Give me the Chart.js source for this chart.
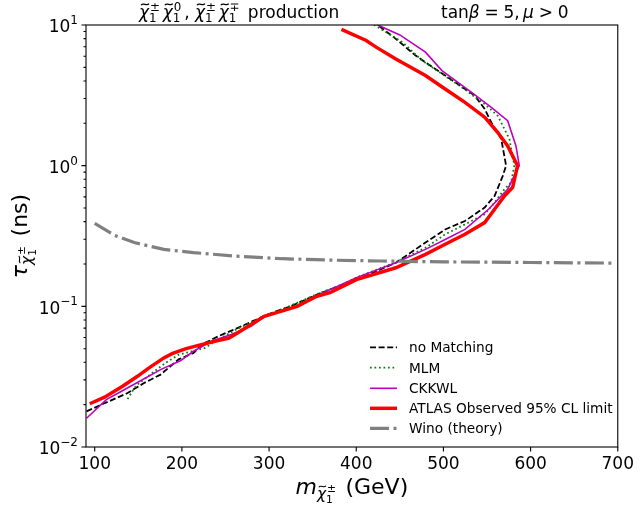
<!DOCTYPE html>
<html>
<head>
<meta charset="utf-8">
<script src="https://cdn.jsdelivr.net/npm/chart.js@4.4.0/dist/chart.umd.min.js"></script>
<style>
  html, body { margin: 0; padding: 0; background: #fff; }
  canvas { display: block; }
</style>
</head>
<body>
<canvas id="chart" width="641" height="508"></canvas>
<script>
// chargino mass (GeV) and lifetime (ns) in order along each curve
const noMatchMass = [90.6, 111.3, 120.7, 137.7, 156.6, 175.5, 196.3, 213.3, 222.7, 241.6, 264.2, 298.2, 324.6, 354.8, 385.0, 415.2, 445.4, 479.4, 502, 524.7, 547.3, 558.7, 568.1, 571.9, 566.3, 554.9, 547.3, 536.0, 513.4, 490.7, 468.1, 445.4, 422.8];
const noMatchTau = [0.0179, 0.0205, 0.0217, 0.0242, 0.0285, 0.0327, 0.042, 0.0466, 0.0534, 0.0612, 0.0703, 0.0875, 0.100, 0.121, 0.143, 0.169, 0.204, 0.284, 0.352, 0.404, 0.504, 0.609, 0.846, 1.0, 1.55, 2.03, 2.53, 3.15, 3.92, 4.87, 6.06, 7.97, 10.2];

const mlmMass = [137.7, 145.3, 151, 181.2, 196.3, 226.5, 241.6, 264.2, 298.2, 324.6, 354.8, 385, 400.1, 445.4, 479.4, 502, 524.7, 547.3, 558.7, 570, 577.6, 581.3, 575.7, 562.4, 547.3, 521, 498.3, 475.6, 453, 415];
const mlmTau = [0.0219, 0.0262, 0.0285, 0.0396, 0.0453, 0.0506, 0.058, 0.0695, 0.087, 0.101, 0.122, 0.144, 0.160, 0.206, 0.261, 0.325, 0.383, 0.451, 0.547, 0.68, 0.759, 1.0, 1.55, 2.26, 2.74, 3.61, 4.49, 5.58, 7.55, 10.5];

const ckkwlMass = [90.6, 113.3, 130.2, 151, 175.5, 198.2, 213.3, 234, 256.6, 279.3, 294.5, 332.2, 354.8, 400.1, 445.4, 479.4, 502, 524.7, 551.8, 573.7, 587, 583.2, 573.7, 554.9, 532.3, 498.3, 479.4, 450, 417];
const ckkwlTau = [0.0160, 0.0217, 0.0248, 0.0292, 0.0355, 0.041, 0.0479, 0.0564, 0.063, 0.0722, 0.0842, 0.100, 0.119, 0.160, 0.204, 0.254, 0.299, 0.352, 0.490, 0.68, 1.0, 1.38, 2.09, 2.60, 3.32, 4.74, 6.41, 8.5, 10.5];

const atlasMass = [94.3, 111.3, 132, 149, 162.3, 179.3, 188.7, 203.9, 218.9, 237.8, 254, 264.2, 279.3, 294.5, 332.2, 354.8, 369.9, 400.1, 445.4, 479.4, 502, 524.7, 547.3, 558.7, 570, 579.4, 585, 573.7, 562.4, 547.3, 524.7, 502, 479.4, 445.4, 422.8, 411.4, 383];
const atlasTau = [0.0203, 0.0226, 0.027, 0.0318, 0.0365, 0.043, 0.0461, 0.0498, 0.0528, 0.0564, 0.0595, 0.0648, 0.0742, 0.085, 0.100, 0.118, 0.125, 0.155, 0.188, 0.234, 0.276, 0.325, 0.394, 0.49, 0.609, 0.70, 1.0, 1.38, 1.72, 2.21, 2.82, 3.51, 4.37, 5.74, 6.96, 7.76, 9.3];

const winoMass = [100, 122.7, 145.3, 179.3, 213.3, 258.6, 315.2, 371.8, 428.4, 500, 600, 695];
const winoTau = [0.389, 0.320, 0.284, 0.254, 0.241, 0.228, 0.218, 0.213, 0.210, 0.207, 0.205, 0.203];

const xTicks = [100, 200, 300, 400, 500, 600, 700];
const yMajor = [0.01, 0.1, 1, 10];
const yExp = [-2, -1, 0, 1];

const FONT = '"DejaVu Sans"';

function pts(xs, ys) {
  return xs.map((x, i) => ({ x: x, y: ys[i] }));
}

function line(label, xs, ys, color, width, dash, order) {
  return {
    label: label,
    data: pts(xs, ys),
    showLine: true,
    borderColor: color,
    backgroundColor: color,
    borderWidth: width,
    borderDash: dash,
    borderCapStyle: 'butt',
    pointRadius: 0,
    fill: false,
    tension: 0,
    clip: 0,
    order: order
  };
}

// tilde accent over chi
function tilde(ctx, cx, cy, w, s) {
  const a = s * 0.05, x0 = cx - w / 2;
  ctx.save();
  ctx.lineWidth = s * 0.07;
  ctx.strokeStyle = '#000';
  ctx.beginPath();
  ctx.moveTo(x0, cy + a);
  ctx.bezierCurveTo(x0 + w * 0.3, cy - 2.6 * a, x0 + w * 0.7, cy + 2.6 * a, x0 + w, cy - a);
  ctx.stroke();
  ctx.restore();
}

// small mathtext-like writer: roman / italic runs, gaps, and chi with tilde, sup and sub
function mathText(ctx, items, x, y, draw) {
  let cx = x;
  for (const it of items) {
    const s = it.size, by = y + (it.dy || 0);
    if (it.gap) { cx += it.gap * s; continue; }
    ctx.font = (it.it || it.chi ? 'italic ' : '') + s + 'px ' + FONT;
    const txt = it.chi ? 'χ' : it.t;
    const w = ctx.measureText(txt).width;
    if (draw) ctx.fillText(txt, cx, by);
    if (it.chi) {
      if (draw) tilde(ctx, cx + w * 0.6, by - s * 0.8, w * 0.8, s);
      const ss = s * 0.7;
      ctx.font = ss + 'px ' + FONT;
      const w1 = ctx.measureText(it.sup).width;
      const w2 = ctx.measureText(it.sub).width;
      if (draw) {
        ctx.fillText(it.sup, cx + w + s * 0.06, by - s * 0.42);
        ctx.fillText(it.sub, cx + w, by + s * 0.24);
      }
      cx += w + Math.max(w1, w2) + s * 0.22;
    } else {
      cx += w;
    }
  }
  return cx - x;
}

const decor = {
  id: 'decor',
  beforeDraw(chart) {
    const ctx = chart.ctx;
    ctx.save();
    ctx.fillStyle = '#fff';
    ctx.fillRect(0, 0, chart.width, chart.height);
    ctx.restore();
  },
  afterDraw(chart) {
    const ctx = chart.ctx, a = chart.chartArea;
    const xs = chart.scales.x, ys = chart.scales.y;
    ctx.save();
    ctx.fillStyle = '#000';
    ctx.strokeStyle = '#000';

    // frame
    ctx.lineWidth = 1.1;
    ctx.strokeRect(a.left, a.top, a.right - a.left, a.bottom - a.top);

    // tick marks
    ctx.beginPath();
    xTicks.forEach(v => {
      const px = xs.getPixelForValue(v);
      ctx.moveTo(px, a.bottom);
      ctx.lineTo(px, a.bottom + 4.5);
    });
    ys.ticks.forEach(t => {
      const py = ys.getPixelForValue(t.value);
      const major = yMajor.some(m => Math.abs(m - t.value) < 1e-9);
      ctx.moveTo(a.left, py);
      ctx.lineTo(a.left - (major ? 4.5 : 2.5), py);
    });
    ctx.stroke();

    // y tick labels 10^n
    ctx.textBaseline = 'alphabetic';
    ctx.textAlign = 'left';
    yMajor.forEach((v, i) => {
      const py = ys.getPixelForValue(v);
      const e = (yExp[i] < 0 ? '\u2212' : '') + Math.abs(yExp[i]);
      ctx.font = '12px ' + FONT;
      const we = ctx.measureText(e).width;
      ctx.font = '17px ' + FONT;
      const wb = ctx.measureText('10').width;
      const x0 = a.left - 8 - we - wb;
      ctx.fillText('10', x0, py + 7.3);
      ctx.font = '12px ' + FONT;
      ctx.fillText(e, x0 + wb, py - 1);
    });

    // titles
    const ts = 17;
    mathText(ctx, [
      { chi: true, sup: '±', sub: '1', size: ts },
      { chi: true, sup: '0', sub: '1', size: ts },
      { t: ', ', size: ts },
      { chi: true, sup: '±', sub: '1', size: ts },
      { chi: true, sup: '∓', sub: '1', size: ts },
      { t: ' production', size: ts }
    ], 139, 18, true);
    mathText(ctx, [
      { t: 'tan', size: ts },
      { t: 'β', it: true, size: ts },
      { gap: 0.28, size: ts },
      { t: '=', size: ts },
      { gap: 0.28, size: ts },
      { t: '5,', size: ts },
      { gap: 0.2, size: ts },
      { t: 'μ', it: true, size: ts },
      { gap: 0.28, size: ts },
      { t: '>', size: ts },
      { gap: 0.28, size: ts },
      { t: '0', size: ts }
    ], 441, 18, true);

    // x axis label
    const ls = 22;
    const xl = [
      { t: 'm', it: true, size: ls },
      { chi: true, sup: '±', sub: '1', size: ls * 0.7, dy: ls * 0.22 },
      { t: ' (GeV)', size: ls }
    ];
    const wx = mathText(ctx, xl, 0, 0, false);
    mathText(ctx, xl, (a.left + a.right) / 2 - wx / 2, 494, true);

    // y axis label, rotated
    const yl = [
      { t: 'τ', it: true, size: ls },
      { chi: true, sup: '±', sub: '1', size: ls * 0.7, dy: ls * 0.22 },
      { t: ' (ns)', size: ls }
    ];
    const wy = mathText(ctx, yl, 0, 0, false);
    ctx.save();
    ctx.translate(27, (a.top + a.bottom) / 2);
    ctx.rotate(-Math.PI / 2);
    mathText(ctx, yl, -wy / 2, 0, true);
    ctx.restore();

    // legend
    const rows = [347.3, 367.7, 388.3, 408.3, 428.3];
    ctx.font = '13.7px ' + FONT;
    chart.data.datasets.forEach((ds, i) => {
      const ry = rows[i];
      ctx.save();
      ctx.strokeStyle = ds.borderColor;
      ctx.lineWidth = ds.borderWidth;
      ctx.lineCap = 'butt';
      ctx.setLineDash(ds.borderDash);
      ctx.beginPath();
      ctx.moveTo(370, ry);
      ctx.lineTo(397, ry);
      ctx.stroke();
      ctx.restore();
      ctx.fillText(ds.label, 409, ry + 5);
    });

    ctx.restore();
  }
};

new Chart(document.getElementById('chart').getContext('2d'), {
  type: 'scatter',
  data: {
    datasets: [
      line('no Matching', noMatchMass, noMatchTau, '#000000', 1.8, [6, 2.6], 5),
      line('MLM', mlmMass, mlmTau, '#008000', 1.8, [1.7, 2.8], 4),
      line('CKKWL', ckkwlMass, ckkwlTau, '#bf00bf', 1.6, [], 3),
      line('ATLAS Observed 95% CL limit', atlasMass, atlasTau, '#ff0000', 3.5, [], 2),
      line('Wino (theory)', winoMass, winoTau, '#808080', 3.2, [19, 4.5, 3, 4.5], 1)
    ]
  },
  options: {
    responsive: false,
    devicePixelRatio: 1,
    animation: false,
    layout: { padding: { top: 25, right: 15, left: 0, bottom: 0 } },
    plugins: {
      legend: { display: false },
      tooltip: { enabled: false }
    },
    scales: {
      x: {
        type: 'linear',
        min: 90,
        max: 700,
        grid: { display: false, drawTicks: false },
        border: { display: false },
        ticks: {
          font: { family: 'DejaVu Sans', size: 17 },
          color: '#000',
          padding: 7,
          maxRotation: 0,
          autoSkip: false,
          callback: v => String(v)
        },
        afterBuildTicks: s => { s.ticks = xTicks.map(v => ({ value: v })); },
        afterFit: s => { s.height = 61; }
      },
      y: {
        type: 'logarithmic',
        min: 0.01,
        max: 10,
        grid: { display: false, drawTicks: false },
        border: { display: false },
        ticks: { display: false },
        afterBuildTicks: s => {
          const t = [];
          yMajor.forEach((m, i) => {
            for (let k = 1; k <= 9; k++) {
              if (i === yMajor.length - 1 && k > 1) break;
              t.push({ value: m * k });
            }
          });
          s.ticks = t;
        },
        afterFit: s => { s.width = 86; }
      }
    }
  },
  plugins: [decor]
});
</script>
</body>
</html>
